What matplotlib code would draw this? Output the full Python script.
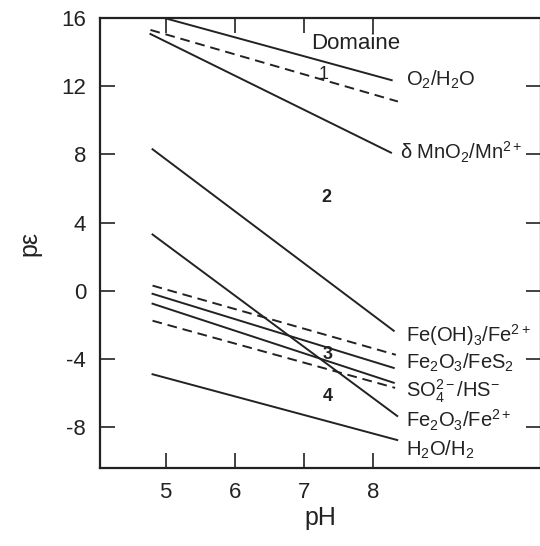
import matplotlib
matplotlib.use("Agg")
from matplotlib import pyplot as plt

plt.rcParams['font.family'] = ['Liberation Sans', 'DejaVu Sans']
plt.rcParams['mathtext.fontset'] = 'custom'
plt.rcParams['mathtext.rm'] = 'Liberation Sans'
plt.rcParams['mathtext.it'] = 'Liberation Sans:italic'
plt.rcParams['mathtext.bf'] = 'Liberation Sans:bold'
plt.rcParams['axes.unicode_minus'] = False

# couples redox: (pH debut, pH fin), (pe debut, pe fin)
ph_o2 = [4.80, 8.27]
pe_o2 = [16.2, 12.35]
ph_dash1 = [4.78, 8.36]
pe_dash1 = [15.3, 11.1]
ph_mno2 = [4.78, 8.26]
pe_mno2 = [15.06, 8.1]
ph_feoh3 = [4.81, 8.30]
pe_feoh3 = [8.3, -2.35]
ph_dash2 = [4.81, 8.33]
pe_dash2 = [0.3, -3.76]
ph_fes2 = [4.81, 8.30]
pe_fes2 = [-0.18, -4.53]
ph_so4 = [4.81, 8.30]
pe_so4 = [-0.76, -5.4]
ph_dash3 = [4.81, 8.32]
pe_dash3 = [-1.76, -5.7]
ph_fe2o3 = [4.81, 8.35]
pe_fe2o3 = [3.3, -7.35]
ph_h2 = [4.81, 8.35]
pe_h2 = [-4.9, -8.76]

solid_lines = [(ph_o2, pe_o2), (ph_mno2, pe_mno2), (ph_feoh3, pe_feoh3),
               (ph_fes2, pe_fes2), (ph_so4, pe_so4), (ph_fe2o3, pe_fe2o3),
               (ph_h2, pe_h2)]
dashed_lines = [(ph_dash1, pe_dash1), (ph_dash2, pe_dash2), (ph_dash3, pe_dash3)]

labels = ["O$_2$/H$_2$O", "δ MnO$_2$/Mn$^{2+}$", "Fe(OH)$_3$/Fe$^{2+}$",
          "Fe$_2$O$_3$/FeS$_2$", "SO$_4^{2-}$/HS$^{-}$", "Fe$_2$O$_3$/Fe$^{2+}$",
          "H$_2$O/H$_2$"]
label_ph = [8.48, 8.39, 8.48, 8.48, 8.48, 8.48, 8.48]
label_pe = [12.35, 8.1, -2.6, -4.25, -5.9, -7.6, -9.35]

domain_names = ["1", "2", "3", "4"]
domain_weights = ['normal', 'bold', 'bold', 'bold']
domain_ph = [7.28, 7.32, 7.35, 7.35]
domain_pe = [12.7, 5.47, -3.76, -6.2]

xticks = [5, 6, 7, 8]
yticks = [16, 12, 8, 4, 0, -4, -8]

fig = plt.figure(figsize=(5.4, 5.46), dpi=100)
ax = fig.add_axes([100 / 540, 1 - 468 / 546, 441 / 540, 450 / 546])

for x, y in solid_lines:
    ax.plot(x, y, color='#222222', lw=1.4)
for x, y in dashed_lines:
    ax.plot(x, y, color='#222222', lw=1.4, linestyle=(0, (5, 3)))

for t, x, y in zip(labels, label_ph, label_pe):
    ax.text(x, y, t, fontsize=14.5, va='center', ha='left', color='#222222')

ax.text(7.75, 14.5, "Domaine", fontsize=16, ha='center', va='center', color='#222222')
for t, w, x, y in zip(domain_names, domain_weights, domain_ph, domain_pe):
    ax.text(x, y, t, fontsize=13, fontweight=w, ha='center', va='center', color='#222222')

ax.set_xlim(4.05, 10.43)
ax.set_ylim(-10.4, 16)
ax.set_xticks(xticks)
ax.set_yticks(yticks)
ax.tick_params(direction='in', length=11, width=1.2, labelsize=16, pad=10,
               top=True, right=True, colors='#222222')
for s in ax.spines.values():
    s.set_linewidth(1.6)
    s.set_color('#222222')

ax.set_xlabel("pH", fontsize=18, labelpad=2, color='#222222')
ax.set_ylabel("pε", fontsize=18, labelpad=14, color='#222222')

fig.savefig("out.png", dpi=100)
